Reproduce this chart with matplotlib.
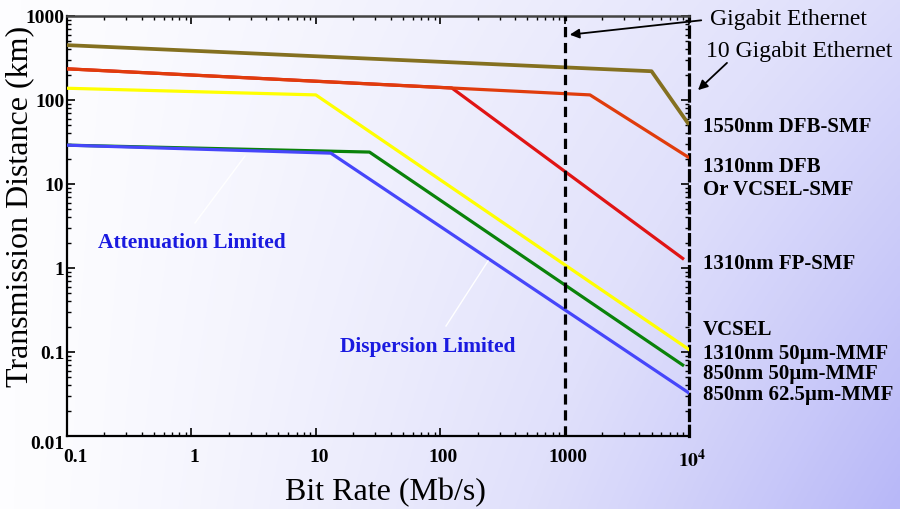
import numpy as np
import matplotlib
matplotlib.use('Agg')
import matplotlib.pyplot as plt
import matplotlib.transforms as mtrans
from matplotlib.colors import LinearSegmentedColormap

plt.rcParams['font.family'] = ['Liberation Serif', 'DejaVu Serif']
plt.rcParams['mathtext.fontset'] = 'stix'

# breakpoints (bit rate in Mb/s, distance in km)
dfb1550_x = [0.1, 5000, 9800]
dfb1550_y = [450, 220, 53]
dfb1310_x = [0.1, 1600, 9800]
dfb1310_y = [235, 115, 21]
fp1310_x = [0.1, 124, 8900]
fp1310_y = [235, 139, 1.3]
mmf1310_x = [0.1, 10, 10000]
mmf1310_y = [138, 115, 0.107]
mmf850_50_x = [0.1, 27, 8900]
mmf850_50_y = [29, 24, 0.07]
mmf850_625_x = [0.1, 13.2, 10000]
mmf850_625_y = [29, 23.3, 0.0325]

xticks = [0.1, 1, 10, 100, 1000, 10000]
xtick_labels = ['0.1', '1', '10', '100', '1000', r'$\mathbf{10^{4}}$']
yticks = [0.01, 0.1, 1, 10, 100, 1000]
ytick_labels = ['0.01', '0.1', '1', '10', '100', '1000']

right_labels = [
    ('1550nm DFB-SMF', 127),
    ('1310nm DFB', 167),
    ('Or VCSEL-SMF', 190),
    ('1310nm FP-SMF', 264),
    ('VCSEL', 330),
    ('1310nm 50\u00b5m-MMF', 354),
    ('850nm 50\u00b5m-MMF', 374),
    ('850nm 62.5\u00b5m-MMF', 395),
]

W, H = 900, 510
fig = plt.figure(figsize=(9, 5.1), dpi=100)

# background gradient, white on the left to lavender bottom-right
bg = fig.add_axes([0, 0, 1, 1], zorder=-10)
gx = np.linspace(0, 1, 300)
gy = np.linspace(0, 1, 170)
GX, GY = np.meshgrid(gx, gy)
t = GX ** 1.3 * (0.55 + 0.45 * GY)
cmap = LinearSegmentedColormap.from_list('bgc', ['#fdfdff', '#e0e0fb', '#b8b8f8'])
bg.imshow(t, cmap=cmap, aspect='auto', extent=[0, 1, 1, 0], vmin=0, vmax=1)
bg.axis('off')

ax = fig.add_axes([67 / W, 1 - 437 / H, 622 / W, 420 / H])
ax.set_facecolor('none')
ax.set_xscale('log')
ax.set_yscale('log')
ax.set_xlim(0.1, 10000)
ax.set_ylim(0.01, 1000)

lw = 2.3
ax.plot(fp1310_x, fp1310_y, color='#e01414', lw=lw, zorder=3)
ax.plot(dfb1310_x, dfb1310_y, color='#e03c0c', lw=lw, zorder=4)
ax.plot(dfb1550_x, dfb1550_y, color='#847020', lw=lw + 0.4, zorder=4)
ax.plot(mmf1310_x, mmf1310_y, color='#ffff00', lw=lw, zorder=3)
ax.plot(mmf850_50_x, mmf850_50_y, color='#0a820a', lw=lw, zorder=3)
ax.plot(mmf850_625_x, mmf850_625_y, color='#4646fa', lw=lw, zorder=4)

ax.axvline(1000, color='black', lw=2.3, dashes=(3.2, 1.8), zorder=5)

ax.set_xticks(xticks)
ax.set_xticklabels(xtick_labels)
ax.set_yticks(yticks)
ax.set_yticklabels(ytick_labels)
for lab in ax.get_xticklabels() + ax.get_yticklabels():
    lab.set_fontweight('bold')
    lab.set_fontsize(14)
ax.tick_params(which='both', direction='in', top=True, right=True)
ax.tick_params(which='major', length=6, width=1.2)
ax.tick_params(which='minor', length=3, width=1)
ax.tick_params(axis='x', pad=9)
ax.tick_params(axis='y', pad=2)

# nudge tick labels like the original layout
xl = ax.get_xticklabels()
for i, lab in enumerate(xl):
    dx = 8 if i == 0 else 3
    lab.set_transform(lab.get_transform() +
                      mtrans.ScaledTranslation(dx / 100, 0, fig.dpi_scale_trans))
yl = ax.get_yticklabels()
yl[0].set_transform(yl[0].get_transform() +
                    mtrans.ScaledTranslation(0, -6 / 100, fig.dpi_scale_trans))

for s in ['left', 'bottom']:
    ax.spines[s].set_linewidth(1.6)
ax.spines['top'].set_linewidth(1.8)
ax.spines['top'].set_color('#444444')
ax.spines['right'].set_linewidth(2.3)
ax.spines['right'].set_linestyle((0, (3.2, 1.8)))


def fx(px):
    return px / W


def fy(py):
    return 1 - py / H


fig.text(fx(385), fy(493), 'Bit Rate (Mb/s)', fontsize=23, ha='center', va='center')
fig.text(fx(20), fy(206), 'Transmission Distance (km)', fontsize=23,
         rotation=90, ha='center', va='center')

for txt, py in right_labels:
    fig.text(fx(703), fy(py), txt, fontsize=15, fontweight='bold',
             ha='left', va='center')

fig.text(fx(710), fy(20), 'Gigabit Ethernet', fontsize=17, ha='left', va='center')
fig.text(fx(706), fy(52), '10 Gigabit Ethernet', fontsize=17, ha='left', va='center')
arrow = dict(arrowstyle='-|>', color='black', lw=1.3, mutation_scale=14)
fig.add_artist(matplotlib.patches.FancyArrowPatch(
    (fx(704), fy(21)), (fx(567), fy(36)), transform=fig.transFigure, **arrow))
fig.add_artist(matplotlib.patches.FancyArrowPatch(
    (fx(729), fy(62)), (fx(696), fy(93)), transform=fig.transFigure, **arrow))

# region notes with thin white pointer lines
fig.add_artist(plt.Line2D([fx(195), fx(245)], [fy(224), fy(157)], color='white', lw=1))
fig.add_artist(plt.Line2D([fx(446), fx(488)], [fy(327), fy(262)], color='white', lw=1))
fig.text(fx(192), fy(243), 'Attenuation Limited', fontsize=15.5, fontweight='bold',
         color='#1a1ae0', ha='center', va='center')
fig.text(fx(428), fy(347), 'Dispersion Limited', fontsize=15.5, fontweight='bold',
         color='#1a1ae0', ha='center', va='center')

fig.savefig('out.png', dpi=100)
